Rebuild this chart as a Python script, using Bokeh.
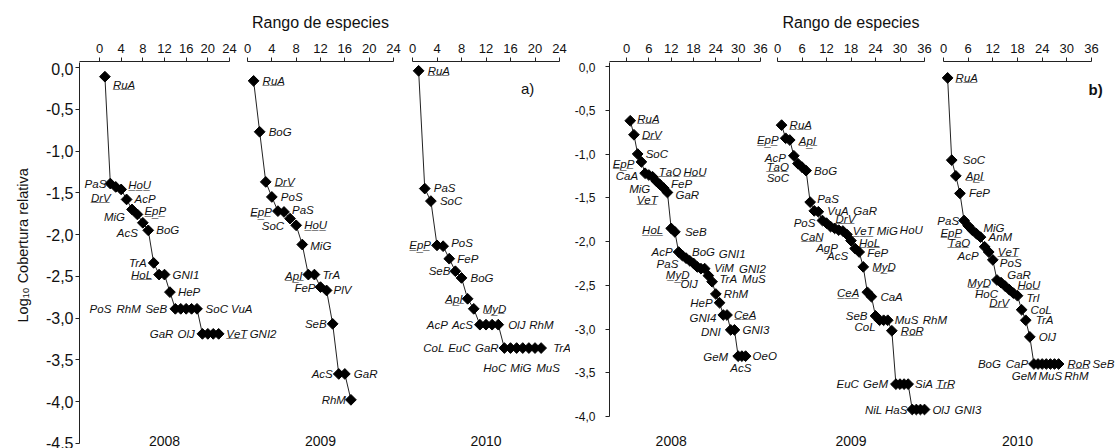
import math
from bokeh.plotting import figure
from bokeh.models import (ColumnDataSource, Range1d, SingleIntervalTicker,
                          CustomJSTickFormatter, Title)
from bokeh.layouts import row, column
from bokeh.embed import file_html
from bokeh.resources import INLINE
from bokeh.core.properties import value

# ------------------------------------------------------------------ data
years = ["2008", "2009", "2010"]

# panel a)
a2008_species = ["RuA", "PaS", "DrV", "HoU", "AcP", "MiG", "EpP", "AcS", "BoG", "TrA", "HoL",
                 "GNI1", "HeP", "PoS", "RhM", "SeB", "SoC", "VuA", "GaR", "OlJ", "VeT", "GNI2"]
a2008_rank = [1, 2, 3, 4, 5, 6, 7, 8, 9, 10, 11, 12, 13, 14, 15, 16, 17, 18, 19, 20, 21, 22]
a2008_logcov = [-0.11, -1.39, -1.43, -1.46, -1.58, -1.70, -1.76, -1.86, -1.95, -2.34, -2.48,
                -2.48, -2.69, -2.89, -2.89, -2.89, -2.89, -2.89, -3.19, -3.19, -3.19, -3.19]
a2008_underlined = ["RuA", "DrV", "HoU", "EpP", "HoL", "VeT"]

a2009_species = ["RuA", "BoG", "DrV", "PoS", "EpP", "PaS", "SoC", "HoU", "MiG", "ApI", "TrA",
                 "FeP", "PlV", "SeB", "AcS", "GaR", "RhM"]
a2009_rank = [1, 2, 3, 4, 5, 6, 7, 8, 9, 10, 11, 12, 13, 14, 15, 16, 17]
a2009_logcov = [-0.16, -0.77, -1.37, -1.55, -1.72, -1.73, -1.81, -1.89, -2.12, -2.48, -2.48,
                -2.63, -2.67, -3.07, -3.67, -3.67, -3.98]
a2009_underlined = ["RuA", "DrV", "EpP", "HoU", "ApI"]

a2010_species = ["RuA", "PaS", "SoC", "EpP", "PoS", "FeP", "SeB", "BoG", "ApI", "MyD", "AcP",
                 "AcS", "OlJ", "RhM", "CoL", "EuC", "GaR", "HoC", "MiG", "MuS", "TrA"]
a2010_rank = [1, 2, 3, 4, 5, 6, 7, 8, 9, 10, 11, 12, 13, 14, 15, 16, 17, 18, 19, 20, 21]
a2010_logcov = [-0.04, -1.45, -1.60, -2.13, -2.14, -2.29, -2.44, -2.52, -2.77, -2.89, -3.08,
                -3.08, -3.08, -3.08, -3.36, -3.36, -3.36, -3.36, -3.36, -3.36, -3.36]
a2010_underlined = ["RuA", "EpP", "ApI", "MyD"]

# panel b)
b2008_species = ["RuA", "DrV", "SoC", "EpP", "CaA", "TaO", "HoU", "MiG", "FeP", "VeT", "GaR",
                 "HoL", "SeB", "AcP", "PaS", "BoG", "GNI1", "MyD", "ViM", "GNI2", "OlJ", "TrA",
                 "MuS", "RhM", "HeP", "GNI4", "CeA", "DNI", "GNI3", "GeM", "AcS", "OeO"]
b2008_rank = [1, 2, 3, 4, 5, 6, 7, 8, 9, 10, 11, 12, 13, 14, 15, 16, 17, 18, 19, 20, 21, 22,
              23, 24, 25, 26, 27, 28, 29, 30, 31, 32]
b2008_logcov = [-0.62, -0.78, -1.00, -1.09, -1.22, -1.24, -1.26, -1.31, -1.35, -1.39, -1.44,
                -1.85, -1.89, -2.12, -2.16, -2.19, -2.22, -2.25, -2.29, -2.31, -2.31, -2.39,
                -2.46, -2.60, -2.70, -2.84, -2.84, -3.01, -3.01, -3.31, -3.31, -3.31]
b2008_underlined = ["RuA", "DrV", "EpP", "TaO", "HoU", "VeT", "HoL", "MyD", "CeA"]

b2009_species = ["RuA", "EpP", "ApI", "AcP", "TaO", "SoC", "BoG", "PaS", "VuA", "GaR", "PoS",
                 "DrV", "CaN", "VeT", "MiG", "HoU", "AgP", "HoL", "AcS", "FeP", "MyD", "CeA",
                 "CaA", "SeB", "CoL", "MuS", "RhM", "RoR", "EuC", "GeM", "SiA", "TrR", "NiL",
                 "HaS", "OlJ", "GNI3"]
b2009_rank = [1, 2, 3, 4, 5, 6, 7, 8, 9, 10, 11, 12, 13, 14, 15, 16, 17, 18, 19, 20, 21, 22,
              23, 24, 25, 26, 27, 28, 29, 30, 31, 32, 33, 34, 35, 36]
b2009_logcov = [-0.67, -0.82, -0.84, -1.02, -1.11, -1.15, -1.19, -1.55, -1.65, -1.66, -1.76,
                -1.79, -1.83, -1.85, -1.87, -1.88, -1.92, -1.99, -2.08, -2.12, -2.29, -2.58,
                -2.63, -2.85, -2.90, -2.90, -2.90, -3.02, -3.63, -3.63, -3.63, -3.63, -3.92,
                -3.92, -3.92, -3.92]
b2009_underlined = ["RuA", "EpP", "ApI", "TaO", "DrV", "CaN", "VeT", "HoL", "MyD", "CeA",
                    "RoR", "TrR"]

b2010_species = ["RuA", "SoC", "ApI", "FeP", "PaS", "EpP", "TaO", "MiG", "AnM", "AcP", "VeT",
                 "PoS", "MyD", "HoC", "DrV", "GaR", "HoU", "TrI", "CoL", "TrA", "OlJ", "BoG",
                 "CaP", "GeM", "MuS", "RhM", "RoR", "SeB"]
b2010_rank = [1, 2, 3, 4, 5, 6, 7, 8, 9, 10, 11, 12, 13, 14, 15, 16, 17, 18, 19, 20, 21, 22,
              23, 24, 25, 26, 27, 28]
b2010_logcov = [-0.13, -1.07, -1.25, -1.45, -1.76, -1.82, -1.87, -1.91, -1.95, -2.06, -2.12,
                -2.21, -2.44, -2.47, -2.51, -2.55, -2.59, -2.62, -2.78, -2.90, -3.09, -3.40,
                -3.40, -3.40, -3.40, -3.40, -3.40, -3.40]
b2010_underlined = ["RuA", "ApI", "EpP", "TaO", "VeT", "MyD", "DrV", "HoU", "RoR"]

panel_tags = ["a)", "b)"]
x_title = "Rango de especies"
y_title = "Log\u2081\u2080 Cobertura relativa"

SERIES = {
    "a1": (a2008_species, a2008_rank, a2008_logcov, a2008_underlined, years[0]),
    "a2": (a2009_species, a2009_rank, a2009_logcov, a2009_underlined, years[1]),
    "a3": (a2010_species, a2010_rank, a2010_logcov, a2010_underlined, years[2]),
    "b1": (b2008_species, b2008_rank, b2008_logcov, b2008_underlined, years[0]),
    "b2": (b2009_species, b2009_rank, b2009_logcov, b2009_underlined, years[1]),
    "b3": (b2010_species, b2010_rank, b2010_logcov, b2010_underlined, years[2]),
}

# ------------------------------------------------------------ label layout
# (align, dx px, dy px) for each label, same order as the species lists
LAB = {
    "a1": [("l", 8, 8), ("r", -4, 0), ("r", -5, 11), ("l", 7, -4), ("l", 8, 0), ("r", -7, 8),
           ("l", 7, -3), ("r", -5, 10), ("l", 8, 0), ("r", -7, 0), ("r", -7, 0), ("l", 8, 0),
           ("l", 8, 0), ("r", -64, 0), ("r", -40, 0), ("r", -19, 0), ("l", 14, 0), ("l", 34, 0),
           ("r", -29, 0), ("r", -13, 0), ("l", 13, 0), ("l", 31, 0)],
    "a2": [("l", 9, 0), ("l", 9, 0), ("l", 9, 0), ("l", 9, 0), ("r", -6, 1), ("l", 8, -2),
           ("r", -6, 7), ("l", 8, 0), ("l", 8, 1), ("r", -6, 1), ("l", 8, 0), ("r", -5, 1),
           ("l", 7, 0), ("r", -6, 0), ("r", -6, 0), ("l", 9, 0), ("r", -5, 0)],
    "a3": [("l", 9, 0), ("l", 9, -1), ("l", 9, 0), ("r", -6, 0), ("l", 8, -3), ("l", 8, 0),
           ("r", -5, 0), ("l", 9, 0), ("r", -5, 0), ("l", 9, 0), ("r", -32, 0), ("r", -13, 0),
           ("l", 16, 0), ("l", 31, 0), ("r", -60, 0), ("r", -40, 0), ("r", -18, 0),
           ("c", -28, 20), ("c", -8, 20), ("c", 13, 20), ("l", 12, 0)],
    "b1": [("l", 7, -2), ("l", 8, 0), ("l", 8, 0), ("r", -7, 2), ("r", -7, 3), ("l", 10, -3),
           ("l", 31, -5), ("r", -6, 8), ("l", 11, -1), ("r", -6, 12), ("l", 8, 2), ("r", -8, 2),
           ("l", 10, 0), ("r", -6, 0), ("r", -4, 8), ("l", 6, -6), ("l", 29, -7), ("r", -4, 12),
           ("l", 17, 1), ("l", 38, 0), ("r", -7, 15), ("l", 11, 3), ("l", 30, -3), ("l", 8, 0),
           ("r", -7, 0), ("r", -7, 3), ("l", 7, 0), ("r", -10, 2), ("l", 8, 0), ("r", -10, 1),
           ("c", -1, 12), ("l", 7, 0)],
    "b2": [("l", 8, 0), ("r", -7, 2), ("l", 9, 1), ("r", -8, 2), ("r", -9, 3), ("r", -13, 11),
           ("l", 8, 0), ("l", 7, -3), ("l", 13, 0), ("l", 35, -1), ("r", -7, 2), ("l", 9, -4),
           ("r", -7, 10), ("l", 18, 3), ("l", 38, 1), ("l", 57, -1), ("r", -9, 13), ("l", 8, 2),
           ("r", -7, 7), ("l", 8, 1), ("l", 9, 0), ("r", -8, 1), ("l", 9, 0), ("r", -8, 0),
           ("r", -4, 7), ("l", 11, 0), ("l", 35, 0), ("l", 9, 0), ("r", -37, 0), ("r", -12, 0),
           ("l", 11, 0), ("l", 28, 0), ("r", -30, 0), ("r", -9, 0), ("l", 12, 0), ("l", 30, 0)],
    "b3": [("l", 8, 0), ("l", 11, 0), ("l", 10, 0), ("l", 9, 0), ("r", -5, 0), ("r", -6, 7),
           ("r", -2, 13), ("l", 7, -6), ("l", 8, 0), ("r", -6, 9), ("l", 9, 0), ("l", 7, 3),
           ("r", -6, 3), ("r", -3, 11), ("r", 4, 17), ("l", -2, -15), ("l", 4, -8), ("l", 9, 2),
           ("l", 9, 0), ("l", 10, 0), ("l", 9, 0), ("r", -33, 0), ("r", -10, 0), ("c", -18, 12),
           ("c", 4, 12), ("c", 26, 12), ("l", 13, 0), ("l", 34, 0)],
}

# ------------------------------------------------------------ page geometry
FONT = "Liberation Sans"
PAGE_H = 448
AX_H = 62                      # strip with the top axes, axis line at its bottom
SPLIT = 570                    # page x where panel b starts
# sub-panel: page px of x=0, px per unit, axis max, frame left, fig left, fig right
GEOM = {
    "a1": (99.0, 130 / 24, 24, 79, 0, 238),
    "a2": (247.0, 146 / 24, 24, 247, 238, 402),
    "a3": (412.0, 147 / 24, 24, 412, 402, SPLIT),
    "b1": (626.0, 134 / 36, 36, 609, SPLIT, 768),
    "b2": (777.0, 147 / 36, 36, 777, 768, 933),
    "b3": (943.0, 148 / 36, 36, 943, 933, 1115),
}
GROUP = {
    "a": dict(keys=["a1", "a2", "a3"], left=0, fl=79, right=SPLIT, y0=67.0, ppy=83.5,
              ymin=-4.5, ylab=16, ystand=2),
    "b": dict(keys=["b1", "b2", "b3"], left=SPLIT, fl=609, right=1115, y0=66.0, ppy=87.5,
              ymin=-4.0, ylab=12, ystand=10),
}
YEAR_X = {"a1": 12, "a2": 12, "a3": 12, "b1": 12, "b2": 18, "b3": 18}
YEAR_PX = 440
TAG_POS = {"a": ("a3", 18.8, -0.25), "b": ("b3", 37.0, -0.26)}


def lab_text(name, under):
    if name in under:
        return "".join(ch + "\u0332" for ch in name)
    return name


def axis_fig(key, label=None):
    z, ppu, xmax, fl, left, right = GEOM[key]
    fr = z + xmax * ppu
    f = figure(width=right - left, height=AX_H,
               x_range=Range1d((fl - z) / ppu, xmax), y_range=Range1d(0, 1),
               x_axis_location="above", y_axis_location=None,
               toolbar_location=None, output_backend="svg",
               min_border_left=int(round(fl - left)), min_border_right=int(round(right - fr)),
               min_border_top=AX_H - 1, min_border_bottom=0,
               outline_line_color=None, background_fill_color="white",
               border_fill_color="white")
    f.grid.visible = False
    ax = f.xaxis[0]
    ax.ticker = SingleIntervalTicker(interval=xmax / 6, num_minor_ticks=0)
    ax.major_tick_out = 4
    ax.major_tick_in = 0
    ax.minor_tick_out = 0
    ax.minor_tick_in = 0
    ax.major_label_standoff = 5
    ax.major_label_text_font = FONT
    ax.major_label_text_font_size = "13px"
    ax.major_label_text_color = "#111"
    ax.axis_line_color = "#222"
    ax.major_tick_line_color = "#222"
    if label:
        ax.axis_label = label
        ax.axis_label_text_font = FONT
        ax.axis_label_text_font_size = "16px"
        ax.axis_label_text_font_style = "normal"
        ax.axis_label_text_color = "#111"
        ax.axis_label_standoff = 10
    return f


def data_fig(g):
    cfg = GROUP[g]
    fl, right, left = cfg["fl"], cfg["right"], cfg["left"]
    ytop = (cfg["y0"] - AX_H) / cfg["ppy"]
    ybot = -(PAGE_H - cfg["y0"]) / cfg["ppy"]
    f = figure(width=right - left, height=PAGE_H - AX_H,
               x_range=Range1d(0, 1), y_range=Range1d(ybot, ytop),
               x_axis_location=None, y_axis_location="left",
               toolbar_location=None, output_backend="svg",
               min_border_left=fl - left, min_border_right=0,
               min_border_top=0, min_border_bottom=0,
               outline_line_color=None, background_fill_color="white",
               border_fill_color="white")
    f.grid.visible = False
    ranges = {}
    for k in cfg["keys"]:
        z, ppu = GEOM[k][0], GEOM[k][1]
        ranges[k] = Range1d((fl - z) / ppu, (right - z) / ppu)
    f.extra_x_ranges = ranges

    ax = f.yaxis[0]
    ax.ticker = SingleIntervalTicker(interval=0.5, num_minor_ticks=0)
    ax.formatter = CustomJSTickFormatter(code="return tick.toFixed(1).replace('.', ',');")
    ax.bounds = (cfg["ymin"], ytop)
    ax.major_tick_out = 4
    ax.major_tick_in = 0
    ax.minor_tick_out = 0
    ax.minor_tick_in = 0
    ax.major_label_standoff = cfg["ystand"]
    ax.major_label_text_font = FONT
    ax.major_label_text_font_size = "%dpx" % cfg["ylab"]
    ax.major_label_text_color = "#111"
    ax.axis_line_color = "#222"
    ax.major_tick_line_color = "#222"

    year_y = -(YEAR_PX - cfg["y0"]) / cfg["ppy"]
    for k in cfg["keys"]:
        species, rank, logcov, under, year = SERIES[k]
        src = ColumnDataSource(dict(x=rank, y=logcov))
        f.line("x", "y", source=src, line_color="#222", line_width=1, x_range_name=k)
        f.scatter("x", "y", source=src, marker="square", size=7.6, angle=math.pi / 4,
                  fill_color="black", line_color="black", x_range_name=k)
        for al, name in (("l", "left"), ("r", "right"), ("c", "center")):
            idx = [i for i, t in enumerate(LAB[k]) if t[0] == al]
            if not idx:
                continue
            s = ColumnDataSource(dict(
                x=[rank[i] for i in idx], y=[logcov[i] for i in idx],
                t=[lab_text(species[i], under) for i in idx],
                dx=[LAB[k][i][1] for i in idx], dy=[LAB[k][i][2] for i in idx]))
            f.text("x", "y", text="t", x_offset="dx", y_offset="dy", source=s,
                   text_align=name, text_baseline="middle", text_font=value(FONT),
                   text_font_style="italic", text_font_size="11.5px", text_color="#111",
                   x_range_name=k)
        f.text(x=[YEAR_X[k]], y=[year_y], text=[year], text_align="center",
               text_baseline="middle", text_font=value(FONT), text_font_size="14px",
               text_color="#111", x_range_name=k)
    tk, tx, ty = TAG_POS[g]
    f.text(x=[tx], y=[ty], text=[panel_tags[0] if g == "a" else panel_tags[1]],
           text_align="center", text_baseline="middle", text_font=value(FONT),
           text_font_size="15px", text_font_style="bold" if g == "b" else "normal",
           text_color="#111", x_range_name=tk)
    if g == "a":
        # text starts 126 px above the frame bottom (page y ~322)
        f.add_layout(Title(text=y_title, align="left", offset=126, standoff=24,
                           text_font=FONT, text_font_size="14.5px",
                           text_font_style="normal", text_color="#111"), "left")
    return f


axes_a = row(axis_fig("a1"), axis_fig("a2", x_title), axis_fig("a3"))
axes_b = row(axis_fig("b1"), axis_fig("b2", x_title), axis_fig("b3"))
layout = row(column(axes_a, data_fig("a")), column(axes_b, data_fig("b")))

open("out.html", "w").write(file_html(layout, INLINE))
